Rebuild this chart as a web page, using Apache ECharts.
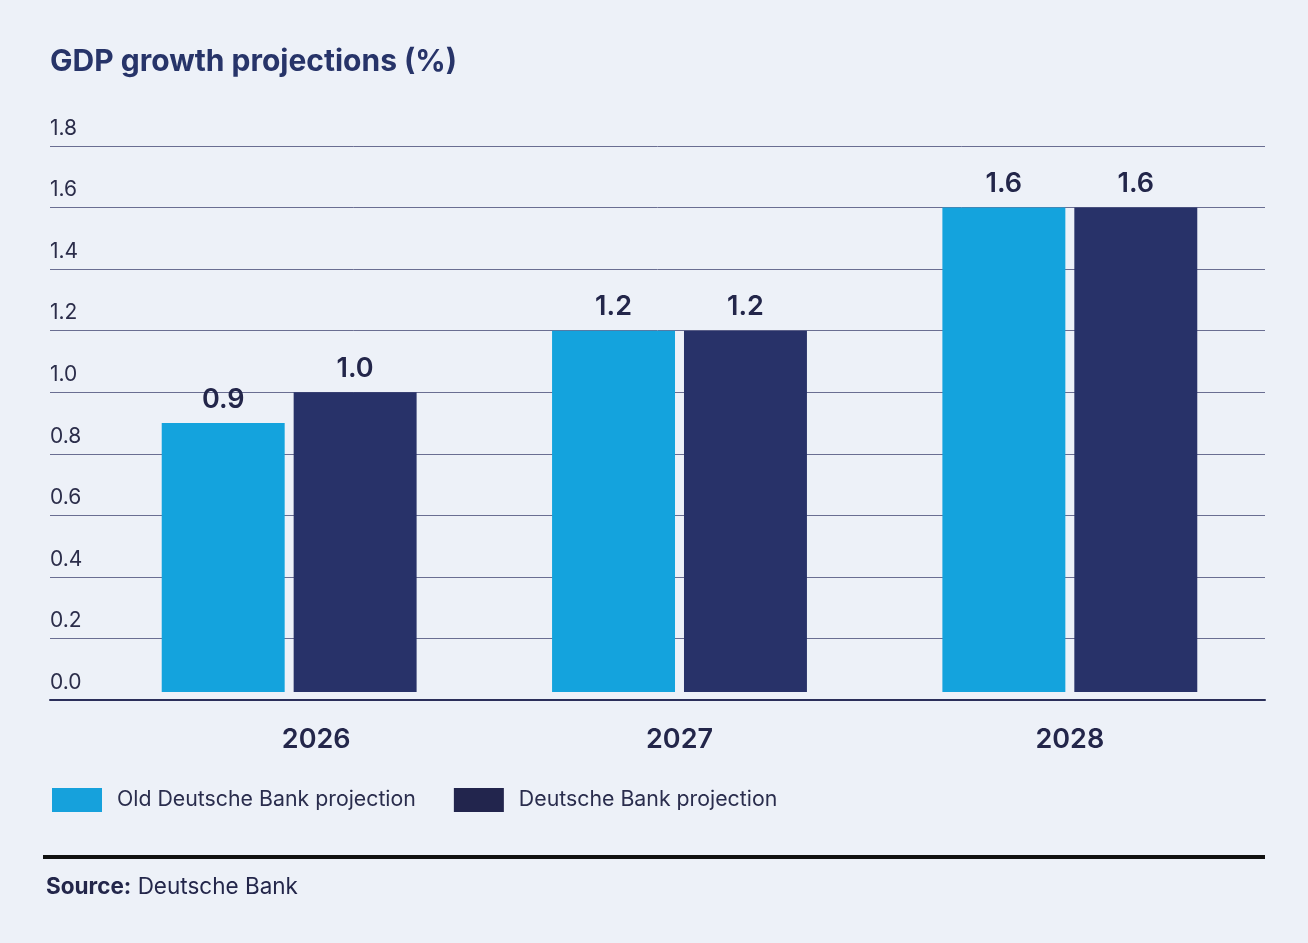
<!DOCTYPE html>
<html>
<head>
<meta charset="utf-8">
<script src="https://cdn.jsdelivr.net/npm/echarts@6/dist/echarts.min.js"></script>
<style>
html,body{margin:0;padding:0;background:#edf1f8;}
#chart{width:1308px;height:943px;}
</style>
</head>
<body>
<div id="chart"></div>
<script>
const categories = ['2026', '2027', '2028'];
const oldProjection = [0.9, 1.2, 1.6];
const newProjection = [1.0, 1.2, 1.6];
const yTicks = { min: 0, max: 1.8, interval: 0.2 };
const seriesNames = ['Old Deutsche Bank projection', 'Deutsche Bank projection'];

const FONT = 'Inter, "Noto Sans", sans-serif';
const LIGHT = '#14a3dd';
const DARK = '#283269';
const TEXT = '#23264a';

function makeRender(side) {
  return function (params, api) {
    const cat = api.value(0);
    const v = api.value(1);
    const top = api.coord([cat, v]);
    const base = api.coord([cat, 0]);
    const band = api.size([1, 0])[0];
    const bw = band * 0.315;
    const gap = band * 0.023;
    const x = side < 0 ? top[0] - gap / 2 - bw : top[0] + gap / 2;
    const bottom = base[1] - 8;
    return {
      type: 'group',
      children: [
        {
          type: 'rect',
          shape: { x: x, y: top[1], width: bw, height: bottom - top[1] },
          style: { fill: side < 0 ? LIGHT : DARK }
        },
        {
          type: 'text',
          x: x + bw / 2,
          y: top[1] - 10,
          style: {
            text: v.toFixed(1),
            align: 'center',
            verticalAlign: 'bottom',
            fontFamily: FONT,
            fontWeight: 600,
            fontSize: 27,
            fill: TEXT
          }
        }
      ]
    };
  };
}

const chart = echarts.init(document.getElementById('chart'));
chart.setOption({
  backgroundColor: '#edf1f8',
  animation: false,
  title: {
    text: 'GDP growth projections (%)',
    left: 45,
    top: 42,
    textStyle: { fontFamily: FONT, fontWeight: 700, fontSize: 30, color: '#273469' }
  },
  legend: {
    left: 47,
    top: 783,
    icon: 'rect',
    itemWidth: 50,
    itemHeight: 24,
    itemGap: 38,
    data: [
      { name: seriesNames[0], itemStyle: { color: '#16a1dc' } },
      { name: seriesNames[1], itemStyle: { color: '#22254d' } }
    ],
    textStyle: { fontFamily: FONT, fontSize: 21.3, color: '#2a2d4d', padding: [0, 0, 0, 10] }
  },
  grid: [
    { left: 50, right: 43, top: 146, bottom: 243 },
    { left: 94, right: 43, top: 146, bottom: 243 }
  ],
  xAxis: [
    {
      gridIndex: 0, type: 'category', data: categories,
      axisLine: { show: true, lineStyle: { color: '#2b2f5a', width: 2 } },
      axisTick: { show: false }, axisLabel: { show: false }
    },
    {
      gridIndex: 1, type: 'category', data: categories,
      axisLine: { show: false }, axisTick: { show: false },
      axisLabel: {
        margin: 26,
        formatter: function (v) { return v === categories[0] ? '{s|' + v + '}' : '{n|' + v + '}'; },
        rich: {
          s: { fontFamily: FONT, fontWeight: 600, fontSize: 27, color: TEXT, padding: [0, 0, 0, 54] },
          n: { fontFamily: FONT, fontWeight: 600, fontSize: 27, color: TEXT }
        }
      }
    }
  ],
  yAxis: [
    {
      gridIndex: 0, type: 'value', min: yTicks.min, max: yTicks.max, interval: yTicks.interval,
      axisLine: { show: false }, axisTick: { show: false },
      splitLine: { show: true, lineStyle: { color: '#6a6e92', width: 1 } },
      axisLabel: {
        inside: true, margin: 0, align: 'left', verticalAlign: 'bottom',
        padding: [0, 0, 7, 0],
        fontFamily: FONT, fontSize: 21, color: '#2b2d4a',
        formatter: function (v) { return v.toFixed(1); }
      }
    },
    {
      gridIndex: 1, type: 'value', min: yTicks.min, max: yTicks.max, interval: yTicks.interval,
      show: false, splitLine: { show: false }
    }
  ],
  series: [
    {
      name: seriesNames[0], type: 'custom', xAxisIndex: 1, yAxisIndex: 1,
      itemStyle: { color: LIGHT },
      renderItem: makeRender(-1),
      encode: { x: 0, y: 1 },
      data: oldProjection.map(function (v, i) { return [i, v]; })
    },
    {
      name: seriesNames[1], type: 'custom', xAxisIndex: 1, yAxisIndex: 1,
      itemStyle: { color: DARK },
      renderItem: makeRender(1),
      encode: { x: 0, y: 1 },
      data: newProjection.map(function (v, i) { return [i, v]; })
    }
  ],
  graphic: [
    { type: 'rect', shape: { x: 43, y: 855, width: 1222, height: 4 }, style: { fill: '#111111' } },
    {
      type: 'text', left: 46, top: 876,
      style: {
        text: '{b|Source:} Deutsche Bank',
        rich: {
          b: { fontFamily: FONT, fontWeight: 700, fontSize: 22.5, fill: '#23264a' }
        },
        fontFamily: FONT, fontSize: 22.5, fill: '#23264a'
      }
    }
  ]
});
</script>
</body>
</html>
